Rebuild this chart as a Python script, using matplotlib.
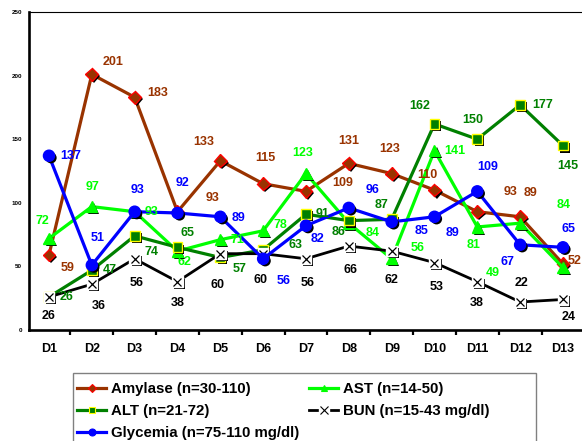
import matplotlib
matplotlib.use('Agg')
import matplotlib.pyplot as plt
import matplotlib.patheffects as pe
from matplotlib.lines import Line2D
from matplotlib.patches import Rectangle
from matplotlib.legend_handler import HandlerTuple

plt.rcParams['font.family'] = ['Liberation Sans', 'DejaVu Sans']
plt.rcParams['font.weight'] = 'bold'

days = ['D1', 'D2', 'D3', 'D4', 'D5', 'D6', 'D7', 'D8', 'D9', 'D10', 'D11', 'D12', 'D13']
amylase = [59, 201, 183, 93, 133, 115, 109, 131, 123, 110, 93, 89, 52]
ast = [72, 97, 93, 62, 71, 78, 123, 84, 56, 141, 81, 84, 49]
alt = [26, 47, 74, 65, 57, 63, 91, 86, 87, 162, 150, 177, 145]
bun = [26, 36, 56, 38, 60, 60, 56, 66, 62, 53, 38, 22, 24]
glycemia = [137, 51, 93, 92, 89, 56, 82, 96, 85, 89, 109, 67, 65]

# value-label offsets (pixels: right, up) per series
amylase_off = [(19, -13), (21, 12), (23, 4), (35, 14), (-17, 19), (2, 26), (37, 8),
               (0, 22), (-2, 25), (-7, 15), (33, 20), (10, 24), (12, 3)]
ast_off = [(-7, 17), (1, 20), (17, 0), (7, -11), (17, 0), (17, 6), (-3, 21),
           (24, -10), (26, 11), (20, 0), (-4, -18), (43, 18), (-70, -5)]
alt_off = [(18, 0), (18, 0), (17, -16), (10, 14), (19, -12), (32, 5), (17, 0),
           (-10, -11), (-10, 14), (-15, 18), (-5, 19), (22, 0), (5, -20)]
bun_off = [(0, -19), (7, -22), (2, -24), (0, -21), (-3, -31), (-3, -26), (2, -24),
           (2, -24), (0, -29), (2, -24), (-1, -21), (1, 19), (6, -18)]
gly_off = [(22, 0), (6, 27), (3, 22), (5, 30), (18, -1), (20, -22), (12, -13),
           (24, 18), (30, -9), (18, -16), (10, 24), (-13, -17), (6, 18)]

W, H = 582, 441
fig = plt.figure(figsize=(W / 100, H / 100), dpi=100)
ax_left, ax_top, ax_bottom = 29, 12, 330
x0 = -0.467
step = 42.83
ax_right_px = 49 + 12.5 * step
ax = fig.add_axes([ax_left / W, 1 - ax_bottom / H,
                   (ax_right_px - ax_left) / W, (ax_bottom - ax_top) / H])
ax.set_xlim(x0, 12.5)
ax.set_ylim(0, 250)

x = list(range(len(days)))
shadow = [pe.SimplePatchShadow(offset=(1.5, -1.5), shadow_rgbFace='black', alpha=1.0),
          pe.Normal()]

z = 2
def series(vals, color, marker, ms, mfc, mec, lw, offs, tcolor, extra_x=False):
    global z
    ax.plot(x, vals, color=color, lw=lw, zorder=z, solid_joinstyle='round')
    ax.plot(x, vals, ls='none', marker=marker, ms=ms, mfc=mfc, mec=mec, mew=1.0,
            zorder=z + 0.5, path_effects=shadow)
    if extra_x:
        ax.plot(x, vals, ls='none', marker='x', ms=ms * 0.85, mec='black', mew=0.9,
                zorder=z + 0.6)
    for xi, v, (dx, dy) in zip(x, vals, offs):
        ax.annotate(str(v), (xi, v), xytext=(dx, dy), textcoords='offset pixels',
                    ha='center', va='center', fontsize=9, fontweight='bold',
                    color=tcolor, zorder=20)
    z += 1

series(amylase, '#993300', 'D', 6.5, '#993300', '#FF0000', 2.3, amylase_off, '#993300')
series(ast, '#00FF00', '^', 8, '#00FF00', '#00FF00', 2.3, ast_off, '#00FF00')
series(alt, '#008000', 's', 7, '#008000', '#FFFF00', 2.3, alt_off, '#008000')
series(bun, 'black', 's', 7.5, 'white', 'white', 2.0, bun_off, 'black', extra_x=True)
series(glycemia, '#0000FF', 'o', 8, '#0000FF', '#0000FF', 2.3, gly_off, '#0000FF')

# axes styling
ax.spines['right'].set_visible(False)
ax.spines['left'].set_linewidth(1.9)
ax.spines['bottom'].set_linewidth(1.9)
ax.spines['top'].set_linewidth(0.8)

ax.set_yticks([0, 50, 100, 150, 200, 250])
ax.tick_params(axis='y', length=0, pad=5, labelsize=4.5)
for t in ax.get_yticklabels():
    t.set_fontweight('bold')

ax.set_xticks([i + 0.5 for i in range(12)])
ax.set_xticklabels([])
ax.set_xticks(x, minor=True)
ax.set_xticklabels(days, minor=True, fontsize=9, fontweight='bold')
ax.tick_params(axis='x', which='major', direction='out', length=3.5, width=1.6)
ax.tick_params(axis='x', which='minor', length=0, pad=9)

# legend
def proxy(color, marker, ms, mfc, mec):
    return Line2D([], [], color=color, lw=2.3, marker=marker, ms=ms, mfc=mfc, mec=mec, mew=0.8)

h_amy = proxy('#993300', 'D', 4, '#993300', '#FF0000')
h_alt = proxy('#008000', 's', 5, '#008000', '#FFFF00')
h_gly = proxy('#0000FF', 'o', 5, '#0000FF', '#0000FF')
h_ast = proxy('#00FF00', '^', 5, '#00FF00', '#00FF00')
h_bun = (Line2D([], [], color='black', lw=2.0, marker='s', ms=7, mfc='white', mec='white'),
         Line2D([], [], ls='none', marker='x', ms=6, mec='black', mew=0.8))
handles = [h_amy, h_alt, h_gly, h_ast, h_bun]
labels = ['Amylase (n=30-110)', 'ALT (n=21-72)', 'Glycemia (n=75-110 mg/dl)',
          'AST (n=14-50)', 'BUN (n=15-43 mg/dl)']

fig.patches.append(Rectangle((73 / W, -0.05), (536 - 73) / W, 0.05 + (441 - 373) / H,
                             transform=fig.transFigure, fill=False,
                             edgecolor='#808080', lw=1.0))
leg = fig.legend(handles, labels, loc='upper left', bbox_to_anchor=(77 / W, 1 - 382 / H),
                 ncol=2, frameon=False, borderpad=0, borderaxespad=0,
                 handlelength=1.95, handletextpad=0.33, columnspacing=0.65,
                 labelspacing=0.55, prop={'size': 10.8, 'weight': 'bold'},
                 handler_map={tuple: HandlerTuple(ndivide=1)})

fig.savefig('out.png', dpi=100)
